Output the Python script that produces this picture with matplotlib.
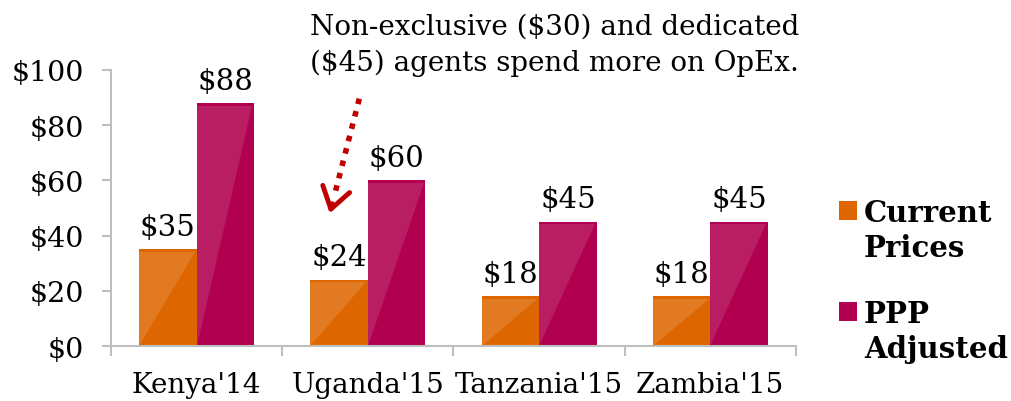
import matplotlib
matplotlib.use("Agg")
import matplotlib.pyplot as plt
from matplotlib.patches import Polygon, FancyArrowPatch, Rectangle
from matplotlib.ticker import FixedLocator

categories = ["Kenya'14", "Uganda'15", "Tanzania'15", "Zambia'15"]
current_prices = [35, 24, 18, 18]
ppp_adjusted = [88, 60, 45, 45]
series_names = [["Current", "Prices"], ["PPP", "Adjusted"]]
y_ticks = [0, 20, 40, 60, 80, 100]
note = "Non-exclusive (\\$30) and dedicated\n(\\$45) agents spend more on OpEx."

plt.rcParams['font.family'] = ['DejaVu Serif']
FS = 20

fig = plt.figure(figsize=(10.11, 4.02), dpi=100)
ax = fig.add_axes([0.1098, 0.1368, 0.6775, 0.6866])

bw = 0.336
x = list(range(len(categories)))
colors = ["#DD6600", "#B0004F"]
light = ["#E27A22", "#BA1E62"]

for i, (vals, c, lc) in enumerate(zip([current_prices, ppp_adjusted], colors, light)):
    offs = -bw / 2 if i == 0 else bw / 2
    bars = ax.bar([xi + offs for xi in x], vals, width=bw, color=c,
                  zorder=2, linewidth=0)
    for b, v in zip(bars, vals):
        x0, w, h = b.get_x(), b.get_width(), b.get_height()
        band = 0.9
        tri = Polygon([(x0, 0), (x0, h - band), (x0 + w * 0.97, h - band)],
                      closed=True, facecolor=lc, edgecolor='none', zorder=3)
        ax.add_patch(tri)
        ax.annotate(f"${v}", (b.get_x() + w / 2, h), xytext=(0, 6),
                    textcoords='offset points', ha='center', va='bottom',
                    fontsize=21, color='black', zorder=4)

ax.set_xlim(-0.5, len(categories) - 0.5)
ax.set_ylim(0, 100)
ax.set_yticks(y_ticks)
ax.set_yticklabels([f"${t}" for t in y_ticks], fontsize=20.5)
ax.set_xticks(x)
ax.set_xticklabels(categories, fontsize=FS)
ax.xaxis.set_minor_locator(FixedLocator([i - 0.5 for i in range(len(categories) + 1)]))
ax.tick_params(axis='x', which='major', length=0, pad=18)
ax.tick_params(axis='x', which='minor', length=7, width=1.5, color='#BFBFBF', direction='out')
ax.tick_params(axis='y', length=6.5, width=1.5, color='#BFBFBF', direction='out', pad=13)
for s in ['top', 'right']:
    ax.spines[s].set_visible(False)
for s in ['left', 'bottom']:
    ax.spines[s].set_color('#BFBFBF')
    ax.spines[s].set_linewidth(1.5)

# annotation text
fig.text(310 / 1011, 1 - 14 / 402, note, ha='left', va='top', fontsize=FS,
         linespacing=1.42)

# dotted arrow
p_start = (360 / 1011, 1 - 97 / 402)
p_mid = (334 / 1011, 1 - 198 / 402)
p_end = (329 / 1011, 1 - 217 / 402)
fig.add_artist(FancyArrowPatch(
    p_start, p_mid, transform=fig.transFigure, arrowstyle='-',
    linestyle=(0, (1.0, 1.3)), linewidth=4, color='#C00000',
    capstyle='butt'))
fig.add_artist(FancyArrowPatch(
    (333 / 1011, 1 - 202 / 402), p_end, transform=fig.transFigure,
    arrowstyle='->,head_length=0.75,head_width=0.5', linewidth=3.5,
    color='#C00000', mutation_scale=20))

# legend: square aligned with first line of each two-line label
blank = Rectangle((0, 0), 1, 1, facecolor='none', edgecolor='none')
handles, labels = [], []
for k, (c, names) in enumerate(zip(colors, series_names)):
    if k > 0:
        handles.append(blank)
        labels.append(" ")
    handles.append(Rectangle((0, 0), 1, 1, facecolor=c, edgecolor='none'))
    labels.append(names[0])
    handles.append(blank)
    labels.append(names[1])

leg = fig.legend(handles, labels, loc='upper left',
                 bbox_to_anchor=(839 / 1011, 1 - 199 / 402),
                 frameon=False, prop={'size': 21, 'weight': 'bold'},
                 handlelength=0.6, handleheight=0.6, handletextpad=0.25,
                 labelspacing=0.22, borderpad=0, borderaxespad=0)
leg.get_texts()[2].set_fontsize(14)

fig.savefig("out.png", dpi=100)
